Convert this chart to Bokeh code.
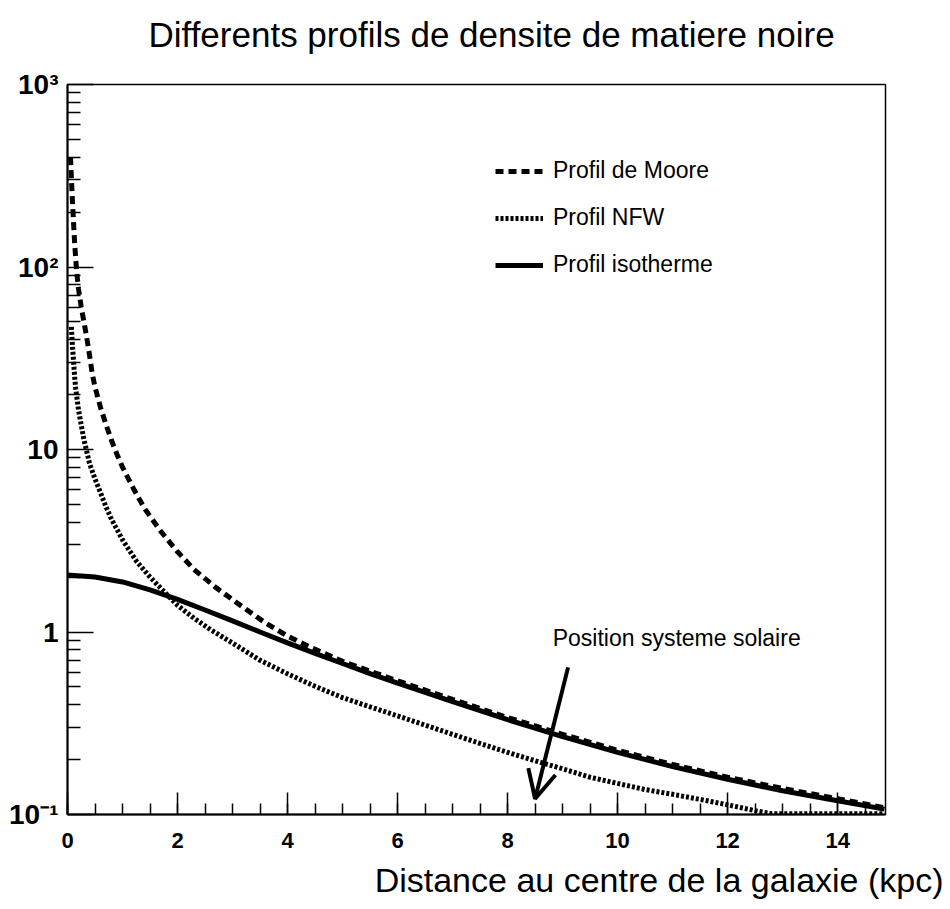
from bokeh.plotting import figure
from bokeh.models import (Range1d, FixedTicker, Legend, LegendItem, Label,
                          Arrow, OpenHead, Title)
from bokeh.embed import file_html
from bokeh.resources import INLINE

# ---------------- data ----------------
TITLE = "Differents profils de densite de matiere noire"
X_TITLE = "Distance au centre de la galaxie (kpc)"
SERIES_LABELS = ["Profil de Moore", "Profil NFW", "Profil isotherme"]

moore_x = [0.055, 0.07, 0.09, 0.11, 0.13, 0.15, 0.17, 0.20, 0.25, 0.30, 0.35,
           0.40, 0.45, 0.50, 0.60, 0.70, 0.80, 0.90, 1.00, 1.20, 1.40, 1.70,
           2.00, 2.30, 2.70, 3.10, 3.60, 4.00, 4.40, 5.00, 6.00, 7.00, 8.00,
           9.00, 10.00, 11.00, 12.00, 13.00, 14.00, 14.85]
moore_y = [400, 310, 230, 175, 135, 110, 92, 76, 60, 50, 41,
           33, 26, 22, 17, 13.7, 11.2, 9.4, 8.0, 6.1, 4.75, 3.55,
           2.75, 2.2, 1.75, 1.43, 1.12, 0.95, 0.83, 0.69, 0.54, 0.427, 0.34,
           0.275, 0.225, 0.188, 0.16, 0.139, 0.122, 0.109]

nfw_x = [0.07, 0.09, 0.11, 0.13, 0.15, 0.20, 0.25, 0.30, 0.40, 0.50, 0.60,
         0.70, 0.80, 1.00, 1.25, 1.50, 1.75, 2.00, 2.30, 2.60, 3.00, 3.50,
         4.00, 4.50, 5.00, 5.50, 6.00, 6.50, 7.00, 7.50, 8.00, 8.50, 9.00,
         9.50, 10.00, 10.50, 11.00, 11.50, 12.00, 12.50, 12.80, 14.00, 14.85]
nfw_y = [47, 37, 30.5, 25, 21.5, 16.5, 13.6, 11.3, 8.4, 6.9, 5.8,
         4.85, 4.15, 3.2, 2.45, 2.0, 1.67, 1.40, 1.19, 1.03, 0.87, 0.70,
         0.59, 0.504, 0.437, 0.389, 0.347, 0.309, 0.275, 0.245, 0.219, 0.197, 0.178,
         0.160, 0.148, 0.137, 0.129, 0.121, 0.113, 0.105, 0.101, 0.101, 0.101]

iso_x = [0.0, 0.5, 1.0, 1.5, 2.0, 2.5, 3.0, 3.5, 4.0, 4.5, 5.0, 5.5, 6.0,
         7.0, 8.0, 9.0, 10.0, 11.0, 12.0, 13.0, 14.0, 14.85]
iso_y = [2.05, 2.0, 1.88, 1.70, 1.51, 1.32, 1.15, 1.0, 0.871, 0.764, 0.672,
         0.592, 0.525, 0.415, 0.331, 0.267, 0.219, 0.183, 0.156, 0.135, 0.119,
         0.107]

x_ticks = [0, 2, 4, 6, 8, 10, 12, 14]
y_ticks = [0.1, 1, 10, 100, 1000]
y_tick_labels = ["10\u207b\u00b9", "1", "10", "10\u00b2", "10\u00b3"]

SUN_X = 8.5
SUN_NOTE = "Position systeme solaire"

FONT = "Liberation Sans"
INK = "black"

# ---------------- figure ----------------
W, H = 950, 909
p = figure(width=W, height=H, output_backend="svg", toolbar_location=None,
           title=None,
           x_range=Range1d(0, 14.87), y_range=Range1d(0.1, 1000),
           y_axis_type="log",
           min_border_left=67, min_border_right=65,
           min_border_top=84, min_border_bottom=95)
p.background_fill_color = "white"
p.border_fill_color = "white"
p.outline_line_color = INK
p.outline_line_width = 1.5
p.xgrid.visible = False
p.ygrid.visible = False

xa = p.xaxis[0]
xa.ticker = FixedTicker(ticks=x_ticks, minor_ticks=[i * 0.5 for i in range(0, 30)])
xa.major_tick_in = 22
xa.major_tick_out = 0
xa.minor_tick_in = 11
xa.minor_tick_out = 0
xa.axis_line_width = 2
xa.major_tick_line_width = 1.5
xa.minor_tick_line_width = 1.5
xa.major_label_text_font = FONT
xa.major_label_text_font_style = "bold"
xa.major_label_text_font_size = "22px"
xa.major_label_text_color = INK
xa.major_label_standoff = 18

ya = p.yaxis[0]
ya.ticker = FixedTicker(ticks=y_ticks,
                        minor_ticks=[m * 10.0 ** e for e in range(-1, 3) for m in range(2, 10)])
ya.major_label_overrides = dict(zip(y_ticks, y_tick_labels))
ya.major_tick_in = 26
ya.major_tick_out = 0
ya.minor_tick_in = 13
ya.minor_tick_out = 0
ya.axis_line_width = 2
ya.major_tick_line_width = 1.5
ya.minor_tick_line_width = 1.5
ya.major_label_text_font = FONT
ya.major_label_text_font_style = "bold"
ya.major_label_text_font_size = "28px"
ya.major_label_text_color = INK
ya.major_label_standoff = 9

# ---------------- curves ----------------
r_moore = p.line(moore_x, moore_y, line_color=INK, line_width=5, line_dash="8 5")
r_nfw = p.line(nfw_x, nfw_y, line_color=INK, line_width=5, line_dash="3 2")
r_iso = p.line(iso_x, iso_y, line_color=INK, line_width=5)

legend = Legend(items=[LegendItem(label=SERIES_LABELS[0], renderers=[r_moore]),
                       LegendItem(label=SERIES_LABELS[1], renderers=[r_nfw]),
                       LegendItem(label=SERIES_LABELS[2], renderers=[r_iso])],
                location=(428, 536), glyph_width=48, glyph_height=22,
                label_height=22, label_standoff=10, spacing=20,
                padding=0, margin=0, border_line_color=None,
                background_fill_alpha=0, label_text_color=INK,
                label_text_font=FONT, label_text_font_size="23px")
p.add_layout(legend)

# ---------------- annotations ----------------
p.add_layout(Arrow(end=OpenHead(size=28, line_width=4, line_color=INK),
                   x_start=SUN_X + 0.6, y_start=0.64, x_end=SUN_X, y_end=0.122,
                   line_width=4, line_color=INK))
p.add_layout(Label(x=SUN_X + 0.32, y=0.93, text=SUN_NOTE, text_font=FONT,
                   text_color=INK, text_font_size="23px",
                   text_baseline="middle", text_align="left"))

# empty spacer panel between the frame and the title
p.add_layout(Title(text=" ", text_font=FONT, text_font_size="10px",
                   standoff=16), "above")
p.add_layout(Title(text=TITLE, text_font=FONT, text_font_size="35px",
                   text_font_style="normal", text_color=INK, align="left",
                   vertical_align="top", offset=81, standoff=0), "above")
p.add_layout(Title(text=X_TITLE, text_font=FONT, text_font_size="34px",
                   text_font_style="normal", text_color=INK, align="right",
                   offset=-58, standoff=16), "below")

open("out.html", "w").write(file_html(p, INLINE))
